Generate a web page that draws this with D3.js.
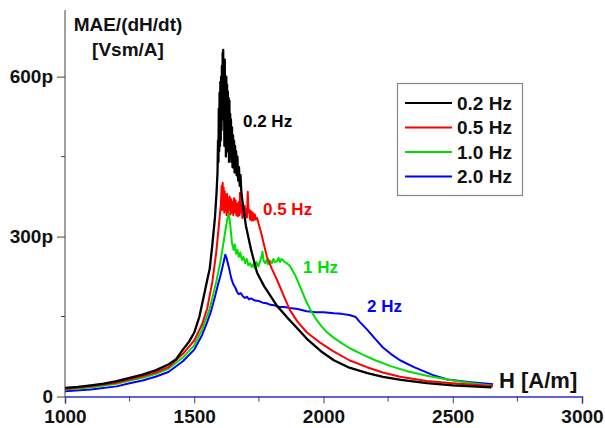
<!DOCTYPE html>
<html>
<head>
<meta charset="utf-8">
<script src="https://cdn.jsdelivr.net/npm/d3@7"></script>
<style>
  html, body { margin: 0; padding: 0; background: #fff; }
  svg { display: block; font-family: "Liberation Sans", Arial, sans-serif; font-weight: bold; }
</style>
</head>
<body>
<svg id="chart" width="605" height="428"></svg>
<script>
// Series labels and colours
const seriesNames = ["0.2 Hz", "0.5 Hz", "1.0 Hz", "2.0 Hz"];
const seriesColors = ["#000000", "#ff0000", "#00e000", "#0000ff"];
const curveLabels = ["0.2 Hz", "0.5 Hz", "1 Hz", "2 Hz"];

// Field strength H [A/m] and MAE/(dH/dt) [pVsm/A] for each excitation frequency
const h02 = [1000,1050,1100,1150,1200,1250,1300,1350,1400,1430,1456,1480,1500,1520,1540,1550,1560,1570,1580,1586,1590,
  1592,1593.5,1595,1596.5,1598,1599.5,1601,1602.5,1604,1605.5,1607,1608.5,1610,1611,1612,1613.5,1615,1616.5,1618,1619.5,
  1621,1622.5,1624,1625.5,1627,1628.5,1630,1631.5,1633,1634.5,1636,1637.5,1639,1640.5,1642,1644,1646,1648,1650,1652,
  1654,1656,1658,1660,1662,1664,1667,1670,1673,1676,1679,1682,1688,1700,1720,1743,1770,1793,1820,1860,1910,1940,1990,
  2040,2100,2170,2230,2300,2400,2500,2650];
const v02 = [16,18,21,24,29,35,41,49,60,70,88,103,120,150,195,218,240,285,335,380,420,
  480,440,540,460,570,470,590,480,600,500,620,520,645,560,650,540,610,470,632,520,
  590,450,600,480,585,460,572,470,560,440,555,470,530,450,520,440,505,430,490,440,
  480,420,470,430,460,415,450,405,430,395,415,385,360,320,275,232,207,190,170,148,122,106,85,
  68,54,44,37,31,25,21,17];

const h05 = [1000,1100,1200,1250,1300,1350,1400,1456,1500,1530,1550,1570,1585,1597,
  1603,1606,1608,1610,1612,1614,1616,1618,1620,1622,1625,1627,1630,1632,1635,1637,1640,1643,1645,1648,1651,1654,1657,
  1660,1663,1666,1669,1672,1675,1677,1680,1683,1686,1689,1692,1695,1698,1701,1704,1707,1710,1713,1716,1719,1722,1726,
  1730,1734,1738,1743,1760,1781,1800,1820,1845,1870,1900,1936,1990,2037,2100,2168,2230,2296,2400,2500,2656];
const v05 = [14,19,26,32,38,45,55,80,105,135,165,215,270,330,
  360,395,350,401,355,392,345,385,350,378,340,380,345,372,350,375,342,370,345,365,340,372,345,
  368,340,362,338,365,340,382,345,360,335,355,338,358,340,352,336,384,345,350,332,348,330,345,
  330,342,332,335,305,262,240,219,190,162,140,120,100,85,68,55,45,37,29,25,19];

const h10 = [1000,1100,1200,1250,1300,1350,1400,1456,1500,1530,1560,1585,1600,1612,1620,1627,1634,1640,1646,1652,1657,
  1662,1667,1672,1678,1684,1690,1697,1703,1709,1716,1722,1728,1735,1741,1748,1754,1760,1764,1768,1774,1780,1785,1792,
  1800,1806,1812,1820,1826,1832,1838,1843,1850,1858,1865,1870,1890,1910,1930,1950,1970,1990,2010,2040,2070,2100,2150,
  2200,2260,2320,2400,2480,2560,2656];
const v10 = [13,17,24,30,35,42,52,73,96,125,165,215,250,285,310,330,344,318,288,275,285,
  268,275,262,270,256,262,250,258,246,250,243,248,240,252,244,252,262,272,255,250,256,248,255,
  250,258,252,254,260,252,258,256,252,250,247,245,228,205,182,162,146,133,122,110,100,91,79,
  68,57,48,39,32,26,20];

const h20 = [1000,1100,1200,1250,1300,1350,1400,1456,1500,1530,1549,1565,1580,1592,1600,1608,1615,1620,1625,1630,1636,
  1643,1650,1658,1666,1672,1680,1688,1696,1704,1712,1720,1735,1750,1765,1780,1795,1810,1830,1850,1870,1900,1935,1970,
  2000,2040,2070,2100,2125,2140,2168,2200,2230,2260,2296,2350,2424,2480,2560,2656];
const v20 = [10,13,19,25,30,37,46,66,88,115,138,160,187,210,224,240,255,266,260,250,238,
  222,212,205,196,192,194,188,185,187,182,184,180,179,176,175,172,171,168,168,166,164,160,158,
  158,156,155,153,149,140,126,108,92,80,68,55,40,32,27,23];

// Axis ticks
const xMajorTicks = [1000, 1500, 2000, 2500, 3000];
const xMinorTicks = [1250, 1750, 2250, 2750];
const yMajorTicks = [0, 300, 600];
const yMinorTicks = [150, 450];

const svg = d3.select("#chart");

const x = d3.scaleLinear().domain([1000, 3000]).range([65, 582]);
const y = d3.scaleLinear().domain([0, 725]).range([396.5, 10]);

const series = [
  { h: h02, v: v02 }, { h: h05, v: v05 }, { h: h10, v: v10 }, { h: h20, v: v20 }
];

const line = d3.line().x(d => x(d[0])).y(d => y(d[1]));

// Curves (drawn from highest frequency to lowest so black is on top)
const curves = svg.append("g").attr("fill", "none").attr("stroke-linejoin", "round");
for (let i = series.length - 1; i >= 0; i--) {
  const pts = series[i].h.map((h, k) => [h, series[i].v[k]]);
  curves.append("path").attr("d", line(pts)).attr("stroke", seriesColors[i])
    .attr("stroke-width", i === 0 ? 2.3 : 2);
}

// X axis
const xAxis = svg.append("g").attr("transform", `translate(0,${y(0)})`);
xAxis.call(d3.axisBottom(x).tickValues(xMajorTicks).tickSize(7).tickFormat(d3.format("d")))
  .call(g => g.select(".domain").attr("stroke", "#2f2fd6").attr("stroke-width", 1.5))
  .call(g => g.selectAll(".tick line").attr("stroke", "#444"))
  .call(g => g.selectAll(".tick text").attr("font-size", 19).attr("font-weight", "bold")
    .attr("font-family", "Liberation Sans, Arial, sans-serif").attr("fill", "#111").attr("dy", "0.85em"));
xAxis.selectAll(".minor").data(xMinorTicks).enter().append("line")
  .attr("x1", d => x(d)).attr("x2", d => x(d)).attr("y1", 0).attr("y2", 5).attr("stroke", "#444");

// Y axis
const yAxis = svg.append("g").attr("transform", `translate(${x(1000)},0)`);
yAxis.call(d3.axisLeft(y).tickValues(yMajorTicks).tickSize(8).tickPadding(4)
    .tickFormat(d => d === 0 ? "0" : d + "p"))
  .call(g => g.select(".domain").attr("stroke", "#444").attr("d", `M0,${y(0)}V${y(725)}`))
  .call(g => g.selectAll(".tick line").attr("stroke", "#444"))
  .call(g => g.selectAll(".tick text").attr("font-size", 19).attr("font-weight", "bold")
    .attr("font-family", "Liberation Sans, Arial, sans-serif").attr("fill", "#111"));
yAxis.selectAll(".minor").data(yMinorTicks).enter().append("line")
  .attr("x1", -4).attr("x2", 0).attr("y1", d => y(d)).attr("y2", d => y(d)).attr("stroke", "#444");

// Axis titles
svg.append("text").attr("x", 128).attr("y", 31).attr("text-anchor", "middle")
  .attr("font-size", 19).attr("fill", "#111").text("MAE/(dH/dt)");
svg.append("text").attr("x", 128).attr("y", 56).attr("text-anchor", "middle")
  .attr("font-size", 19).attr("fill", "#111").text("[Vsm/A]");
svg.append("text").attr("x", 499).attr("y", 388)
  .attr("font-size", 22).attr("fill", "#111").text("H [A/m]");

// Labels next to each curve
const labelPos = [[243, 127], [263, 215], [303, 273], [367, 312]];
curveLabels.forEach((t, i) => {
  svg.append("text").attr("x", labelPos[i][0]).attr("y", labelPos[i][1])
    .attr("font-size", 17).attr("fill", seriesColors[i]).text(t);
});

// Legend
const legend = svg.append("g");
legend.append("rect").attr("x", 397.5).attr("y", 83.5).attr("width", 125).attr("height", 112)
  .attr("fill", "#fff").attr("stroke", "#888").attr("stroke-width", 1.2);
seriesNames.forEach((name, i) => {
  const cy = 103 + i * 24.5;
  legend.append("line").attr("x1", 405).attr("x2", 452).attr("y1", cy).attr("y2", cy)
    .attr("stroke", seriesColors[i]).attr("stroke-width", 2);
  legend.append("text").attr("x", 457).attr("y", cy + 6.5).attr("font-size", 19)
    .attr("fill", "#111").text(name);
});
</script>
</body>
</html>
